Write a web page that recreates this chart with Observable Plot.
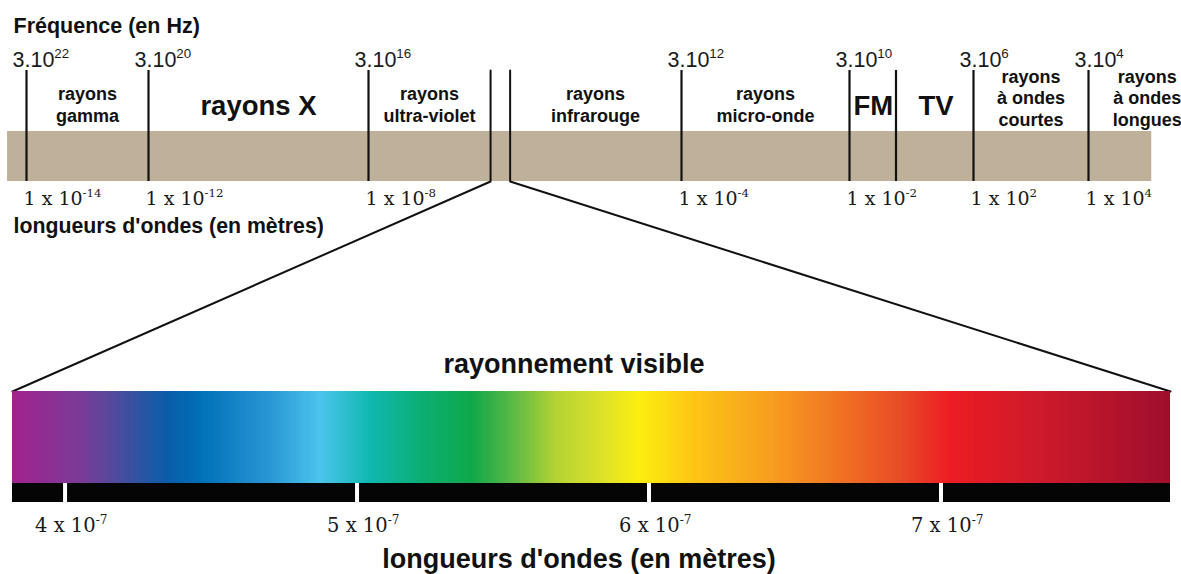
<!DOCTYPE html>
<html>
<head>
<meta charset="utf-8">
<script src="https://cdn.jsdelivr.net/npm/d3@7"></script>
<script src="https://cdn.jsdelivr.net/npm/@observablehq/plot@0.6"></script>
<style>
  html, body { margin: 0; padding: 0; background: #fff; }
  #chart { position: relative; width: 1181px; height: 574px; }
  #chart svg { position: absolute; left: 0; top: 0; }
</style>
</head>
<body>
<div id="chart"></div>
<script>
// ---------- DATA ----------
// Electromagnetic spectrum (top): wavelength exponents (log10 m) of the labelled boundaries
const wavelengthExponents = [-14, -12, -8, -4, -2, 2, 4];
// matching frequency exponents: 3.10^n Hz
const frequencyExponents = [22, 20, 16, 12, 10, 6, 4];
// unlabelled boundary between FM and TV (log10 m)
const extraBoundaries = [-0.5];
// limits of the visible window on the top band (log10 m)
const visibleBounds = [-6.44, -6.19];
// extent of the tan band (log10 m)
const bandExtent = [-14.31, 5.1];
// band names and their centres (log10 m)
const bandNames = ["rayons\ngamma", "rayons X", "rayons\nultra-violet", "rayons\ninfrarouge",
  "rayons\nmicro-onde", "FM", "TV", "rayons\nà ondes\ncourtes", "rayons\nà ondes\nlongues"];
const bandCenters = [-13, -10, -7.22, -5.1, -3, -1.23, 0.79, 3, 5.02];
const bandIsBig = [false, true, false, false, false, true, true, false, false];

// Visible spectrum (bottom), wavelength in nm
const visibleExtent = [382, 778.6];
const visibleTicks = [400, 500, 600, 700];
const spectrumStops = [382, 405, 417, 429, 435, 446, 470, 487, 504, 522, 539, 553, 568, 584, 596, 616, 642, 669, 686, 703, 734, 778.6];
const spectrumColors = ["#a3238e", "#7a3b97", "#4f4b9d", "#1f58a5", "#0b5da9", "#0070b8", "#2a97d4", "#4cc4ee",
  "#10b8b0", "#0cae73", "#10a84b", "#5bb946", "#b5d334", "#dde229", "#fcee0f", "#fcc315", "#f79d20",
  "#ef6b24", "#e84b27", "#ec1c24", "#cd1a2b", "#9f0e2d"];

// ---------- LAYOUT ----------
const W = 1181, H = 574;
const topRange = [26, 148, 368, 681, 849, 973, 1088];   // pixel positions of the labelled boundaries
const bottomRange = [12, 1170];                         // pixel extent of the visible spectrum
const rows = {lineTop: 70, bandTop: 131, bandBottom: 181, freqBase: 66, waveBase: 204,
  specTop: 391, specBottom: 483, barBottom: 502, specLabel: 531};
const tan = "#bfb199", ink = "#111";
const sans = "Liberation Sans, Arial, Helvetica, sans-serif";
const serif = "DejaVu Serif, serif";

const xTop = {type: "linear", domain: wavelengthExponents, range: topRange, axis: null};
const xBot = {type: "linear", domain: visibleExtent, range: bottomRange, axis: null};
const yRows = {type: "linear", domain: [0, H], range: [0, H], axis: null};

// visible window ends expressed in the top scale
const topS = d3.scaleLinear(wavelengthExponents, topRange);
const botS = d3.scaleLinear(visibleExtent, bottomRange);
const spectrumEndsLog = visibleExtent.map(v => topS.invert(botS(v)));

const bands = bandNames.map((name, i) => ({name, at: bandCenters[i], big: bandIsBig[i], lines: name.split("\n").length}));
const zoomLines = [];
visibleBounds.forEach((b, i) => {
  zoomLines.push({k: i, x: b, y: rows.lineTop});
  zoomLines.push({k: i, x: b, y: rows.bandBottom});
  zoomLines.push({k: i, x: spectrumEndsLog[i], y: rows.specTop});
});

const topChart = Plot.plot({
  width: W, height: H, margin: 0,
  x: xTop, y: yRows,
  style: {background: "white", overflow: "visible"},
  marks: [
    Plot.rect([bandExtent], {x1: d => d[0], x2: d => d[1], y1: rows.bandTop, y2: rows.bandBottom, fill: tan}),
    Plot.ruleX(wavelengthExponents.concat(extraBoundaries), {x: d => d, y1: rows.lineTop, y2: rows.bandBottom, stroke: ink, strokeWidth: 2.2}),
    Plot.line(zoomLines, {x: "x", y: "y", z: "k", stroke: ink, strokeWidth: 2, strokeLinejoin: "miter", curve: "linear"}),
    Plot.text(wavelengthExponents, {x: d => d, y: rows.freqBase, text: (d, i) => `3.10^${frequencyExponents[i]}`,
      textAnchor: "start", lineAnchor: "bottom", dx: -14, fontSize: 21.5, fontFamily: sans, fill: "#1a1a1a"}),
    Plot.text(wavelengthExponents, {x: d => d, y: rows.waveBase, text: d => `1 x 10^${d}`,
      textAnchor: "start", lineAnchor: "bottom", dx: -3, fontSize: 19, fontFamily: serif, fill: "#1a1a1a"}),
    Plot.text(bands.filter(d => !d.big), {x: "at", y: d => d.lines === 3 ? 125 : 121, text: "name",
      lineAnchor: "bottom", lineHeight: 1.17, fontSize: 18, fontWeight: "bold", fontFamily: sans, fill: ink}),
    Plot.text(bands.filter(d => d.big), {x: "at", y: 114, text: "name",
      lineAnchor: "bottom", fontSize: 27.5, fontWeight: "bold", fontFamily: sans, fill: ink}),
    Plot.text(["Fréquence (en Hz)"], {frameAnchor: "top-left", dx: 13, dy: 32, textAnchor: "start", lineAnchor: "bottom",
      fontSize: 21.5, fontWeight: "bold", fontFamily: sans, fill: ink}),
    Plot.text(["longueurs d'ondes (en mètres)"], {frameAnchor: "top-left", dx: 13, dy: 232, textAnchor: "start", lineAnchor: "bottom",
      fontSize: 21.3, fontWeight: "bold", fontFamily: sans, fill: ink})
  ]
});

const samples = d3.range(visibleExtent[0], visibleExtent[1], 1);
const bottomChart = Plot.plot({
  width: W, height: H, margin: 0,
  x: xBot, y: yRows,
  color: {type: "linear", domain: spectrumStops, range: spectrumColors},
  style: {background: "transparent", overflow: "visible"},
  marks: [
    Plot.rect(samples, {x1: d => d, x2: d => Math.min(d + 1.3, visibleExtent[1]), y1: rows.specTop, y2: rows.specBottom, fill: d => d}),
    Plot.rect([visibleExtent], {x1: d => d[0], x2: d => d[1], y1: rows.specBottom, y2: rows.barBottom, fill: "#050505"}),
    Plot.ruleX(visibleTicks, {x: d => d, y1: rows.specBottom, y2: rows.barBottom, stroke: "white", strokeWidth: 4}),
    Plot.text(visibleTicks, {x: d => d, y: rows.specLabel, text: d => `${d / 100} x 10^-7`,
      textAnchor: "start", lineAnchor: "bottom", dx: -30, fontSize: 19.5, fontFamily: serif, fill: "#1a1a1a"}),
    Plot.text(["rayonnement visible"], {frameAnchor: "top", dx: -17, dy: 372, lineAnchor: "bottom",
      fontSize: 27, fontWeight: "bold", fontFamily: sans, fill: ink}),
    Plot.text(["longueurs d'ondes (en mètres)"], {frameAnchor: "top", dx: -12, dy: 567, lineAnchor: "bottom",
      fontSize: 27, fontWeight: "bold", fontFamily: sans, fill: ink})
  ]
});

// render "a^b" strings as base + superscript
function superscripts(svg) {
  const ns = "http://www.w3.org/2000/svg";
  svg.querySelectorAll("text").forEach(t => {
    if (t.children.length) return;
    const s = t.textContent, k = s.indexOf("^");
    if (k < 0) return;
    t.textContent = "";
    const base = document.createElementNS(ns, "tspan");
    base.textContent = s.slice(0, k);
    const sup = document.createElementNS(ns, "tspan");
    sup.textContent = s.slice(k + 1);
    sup.setAttribute("font-size", "62%");
    sup.setAttribute("dy", "-0.62em");
    t.appendChild(base);
    t.appendChild(sup);
  });
}
superscripts(topChart);
superscripts(bottomChart);

const chart = document.getElementById("chart");
chart.appendChild(topChart);
chart.appendChild(bottomChart);
</script>
</body>
</html>
